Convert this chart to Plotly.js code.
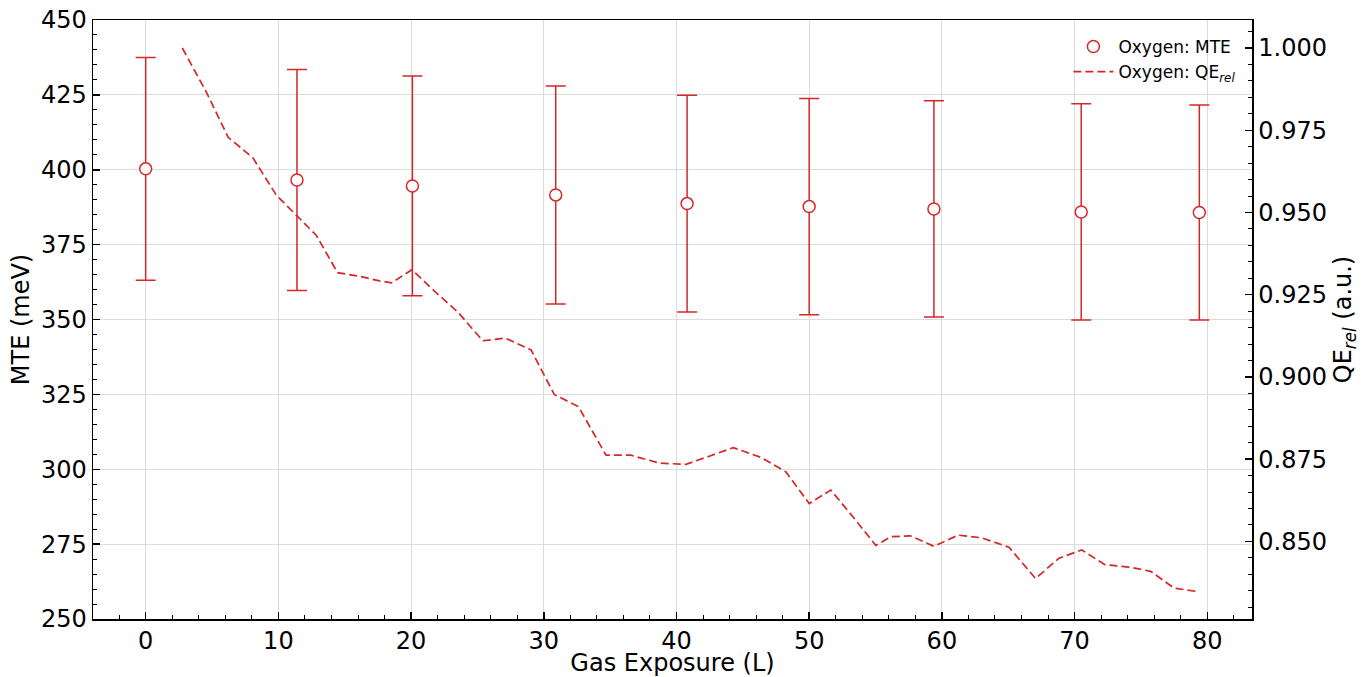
<!DOCTYPE html>
<html>
<head>
<meta charset="utf-8">
<script src="https://cdn.plot.ly/plotly-3.0.1.min.js"></script>
<style>html,body{margin:0;padding:0;background:#fff;}#chart{width:1369px;height:677px;}</style>
</head>
<body>
<div id="chart"></div>
<script>
// MTE measurements (left axis)
const mteExposure = [0, 11.4, 20.1, 30.9, 40.8, 50.0, 59.4, 70.5, 79.4];
const mteValues = [400.3, 396.6, 394.6, 391.6, 388.7, 387.7, 386.9, 385.9, 385.7];
const mteErrors = [37.2, 36.9, 36.7, 36.4, 36.2, 36.1, 36.1, 36.1, 35.9];

// Relative QE (right axis)
const qeExposure = [2.76, 4.57, 6.21, 8.08, 9.84, 11.35, 12.85, 14.46, 16.11, 17.62, 18.52, 20.07, 21.76, 23.53, 25.40, 27.11, 29.04, 30.80, 32.61, 34.69, 36.57, 38.70, 40.71, 42.47, 44.28, 46.39, 48.25, 50.00, 51.63, 53.31, 55.02, 56.14, 57.61, 59.41, 61.22, 62.99, 65.06, 67.06, 68.83, 70.54, 72.29, 74.10, 75.73, 77.49, 79.32];
const qeValues = [1.000, 0.9866, 0.9729, 0.9666, 0.9553, 0.9492, 0.9431, 0.9317, 0.9306, 0.9292, 0.9286, 0.9326, 0.9261, 0.9197, 0.9110, 0.9118, 0.9082, 0.8946, 0.8910, 0.8762, 0.8762, 0.8738, 0.8734, 0.8759, 0.8785, 0.8755, 0.8711, 0.8615, 0.8656, 0.8574, 0.8488, 0.8514, 0.8517, 0.8485, 0.8519, 0.8511, 0.8482, 0.8387, 0.8449, 0.8474, 0.8429, 0.8422, 0.8409, 0.8358, 0.8347];

const red = '#d62728';
const font = 'DejaVu Sans, Liberation Sans, sans-serif';

const traces = [
  {
    x: mteExposure, y: mteValues, type: 'scatter', mode: 'markers',
    name: 'Oxygen: MTE',
    marker: {symbol: 'circle', size: 12, color: '#ffffff', line: {color: red, width: 1.5}},
    error_y: {type: 'data', array: mteErrors, visible: true, color: red, thickness: 1.5, width: 10},
    yaxis: 'y', cliponaxis: false
  },
  {
    x: qeExposure, y: qeValues, type: 'scatter', mode: 'lines',
    name: 'Oxygen: QE<sub><i>rel</i></sub>',
    line: {color: red, width: 1.7, dash: '8px,4px'},
    yaxis: 'y2'
  }
];

const tickFont = {family: font, size: 24, color: '#000'};
const layout = {
  width: 1369, height: 677,
  margin: {l: 93, r: 117, t: 20, b: 58},
  paper_bgcolor: '#fff', plot_bgcolor: '#fff',
  showlegend: true,
  legend: {x: 0.99, y: 0.985, xanchor: 'right', yanchor: 'top', bgcolor: 'rgba(255,255,255,0)',
           itemwidth: 40, font: {family: font, size: 17, color: '#000'}, tracegroupgap: 0},
  xaxis: {
    range: [-3.97, 83.37], dtick: 10, tick0: 0,
    title: {text: 'Gas Exposure (L)', font: {family: font, size: 24, color: '#000'}},
    tickfont: tickFont, ticks: 'inside', ticklen: 7, tickwidth: 1.5, tickcolor: '#000',
    showline: true, linecolor: '#000', linewidth: 1.5, mirror: true,
    showgrid: true, gridcolor: '#dcdcdc', gridwidth: 1, zeroline: false,
    minor: {dtick: 2, ticks: 'inside', ticklen: 4, tickwidth: 1, tickcolor: '#000', showgrid: false}
  },
  yaxis: {
    range: [250, 450], dtick: 25, tick0: 250,
    title: {text: 'MTE (meV)', font: {family: font, size: 24, color: '#000'}, standoff: 4},
    tickfont: tickFont, ticks: 'inside', ticklen: 7, tickwidth: 1.5, tickcolor: '#000',
    showline: true, linecolor: '#000', linewidth: 1.5, mirror: true,
    showgrid: true, gridcolor: '#dcdcdc', gridwidth: 1, zeroline: false,
    minor: {dtick: 5, ticks: 'inside', ticklen: 4, tickwidth: 1, tickcolor: '#000', showgrid: false}
  },
  yaxis2: {
    overlaying: 'y', side: 'right',
    range: [0.8264, 1.00852], dtick: 0.025, tick0: 0.85, tickformat: '.3f',
    title: {text: 'QE<sub><i>rel</i></sub> (a.u.)', font: {family: font, size: 24, color: '#000'}, standoff: 8},
    tickfont: tickFont, ticks: 'inside', ticklen: 7, tickwidth: 1.5, tickcolor: '#000',
    showline: true, linecolor: '#000', linewidth: 1.5,
    showgrid: false, zeroline: false,
    minor: {dtick: 0.005, ticks: 'inside', ticklen: 4, tickwidth: 1, tickcolor: '#000', showgrid: false}
  }
};

Plotly.newPlot('chart', traces, layout, {displayModeBar: false, staticPlot: true});
</script>
</body>
</html>
